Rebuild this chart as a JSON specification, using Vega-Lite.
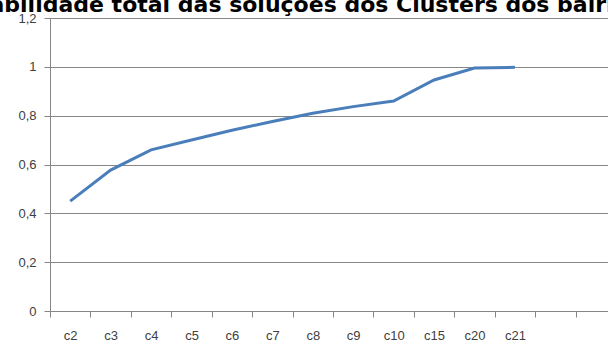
{
  "$schema": "https://vega.github.io/schema/vega-lite/v6.json",
  "autosize": "none",
  "width": 566,
  "height": 293,
  "padding": {"left": 50, "top": 18, "right": 0, "bottom": 36},
  "background": "white",
  "title": {
    "text": "Estabilidade total das soluções dos Clusters dos bairros",
    "font": "DejaVu Sans",
    "fontSize": 22,
    "fontWeight": "bold",
    "color": "#000000",
    "baseline": "alphabetic",
    "offset": 0,
    "anchor": "middle",
    "dx": -35,
    "dy": 22
  },
  "data": {
    "values": [
      {"cluster": "c2", "valor": 0.45},
      {"cluster": "c3", "valor": 0.577},
      {"cluster": "c4", "valor": 0.66},
      {"cluster": "c5", "valor": 0.70},
      {"cluster": "c6", "valor": 0.74},
      {"cluster": "c7", "valor": 0.776},
      {"cluster": "c8", "valor": 0.81},
      {"cluster": "c9", "valor": 0.837},
      {"cluster": "c10", "valor": 0.86},
      {"cluster": "c15", "valor": 0.946},
      {"cluster": "c20", "valor": 0.995},
      {"cluster": "c21", "valor": 0.998}
    ]
  },
  "mark": {"type": "line", "color": "#4a7ebb", "strokeWidth": 3},
  "encoding": {
    "x": {
      "field": "cluster",
      "type": "ordinal",
      "sort": null,
      "scale": {"type": "band", "domain": ["c2","c3","c4","c5","c6","c7","c8","c9","c10","c15","c20","c21"," ","  "], "paddingInner": 0, "paddingOuter": 0},
      "axis": {
        "title": null,
        "labelAngle": 0,
        "tickBand": "extent",
        "tickSize": 6,
        "tickColor": "#868686",
        "domainColor": "#868686",
        "labelFont": "Liberation Sans",
        "labelFontSize": 13,
        "labelColor": "#404040",
        "labelPadding": 12,
        "grid": false
      }
    },
    "y": {
      "field": "valor",
      "type": "quantitative",
      "scale": {"domain": [0, 1.2], "nice": false},
      "axis": {
        "title": null,
        "values": [0, 0.2, 0.4, 0.6, 0.8, 1, 1.2],
        "labelExpr": "replace(format(datum.value, '~g'), '.', ',')",
        "tickSize": 6,
        "tickColor": "#868686",
        "domainColor": "#868686",
        "gridColor": "#868686",
        "labelFont": "Liberation Sans",
        "labelFontSize": 13,
        "labelColor": "#404040",
        "labelPadding": 8
      }
    }
  },
  "config": {"view": {"stroke": null}}
}
